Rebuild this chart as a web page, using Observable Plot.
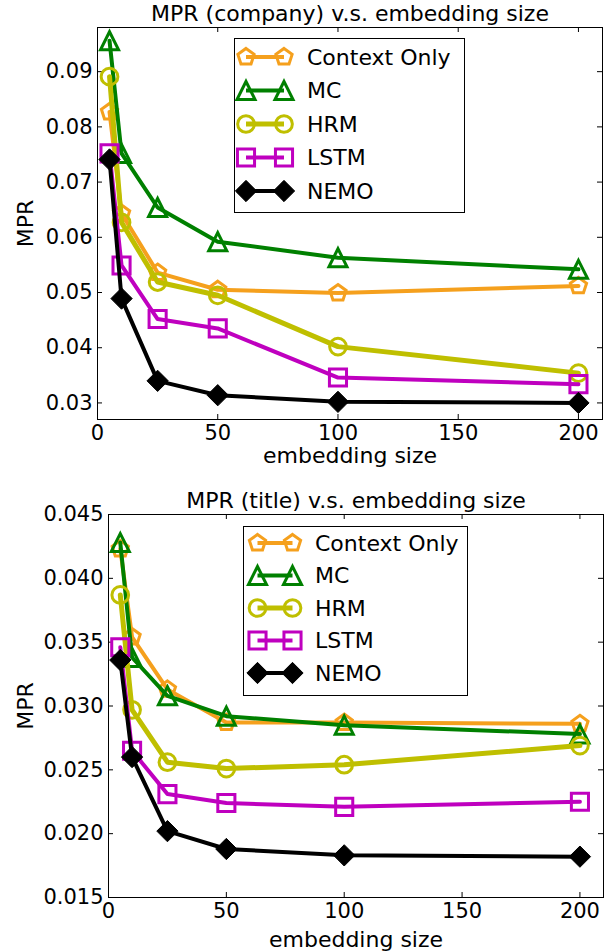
<!DOCTYPE html>
<html><head><meta charset="utf-8">
<script src="https://cdn.jsdelivr.net/npm/d3@7"></script>
<script src="https://cdn.jsdelivr.net/npm/@observablehq/plot@0.6"></script>
<style>
body{margin:0;background:#fff;font-family:"DejaVu Sans",sans-serif;}
#wrap{width:613px;height:952px;}
svg{display:block}
</style></head><body><div id="wrap"></div>
<script>
// ---- data ----
const sizes = [5, 10, 25, 50, 100, 200];
const seriesNames = ["Context Only", "MC", "HRM", "LSTM", "NEMO"];
const xTicks = [0, 50, 100, 150, 200];

// MPR (company)
const companyContext = [0.0827, 0.0643, 0.0536, 0.0505, 0.0499, 0.0512];
const companyMC      = [0.0956, 0.0752, 0.0654, 0.0592, 0.0563, 0.0542];
const companyHRM     = [0.0891, 0.0627, 0.0519, 0.0495, 0.0402, 0.0354];
const companyLSTM    = [0.0752, 0.0549, 0.0452, 0.0435, 0.0346, 0.0334];
const companyNEMO    = [0.0741, 0.0489, 0.0340, 0.0314, 0.0302, 0.0300];
const companyYTicks  = [0.03, 0.04, 0.05, 0.06, 0.07, 0.08, 0.09];

// MPR (title)
const titleContext = [0.0423, 0.0354, 0.0313, 0.0287, 0.0287, 0.0286];
const titleMC      = [0.0428, 0.0338, 0.0308, 0.0292, 0.0285, 0.0278];
const titleHRM     = [0.0387, 0.0297, 0.0256, 0.0251, 0.0254, 0.0269];
const titleLSTM    = [0.0346, 0.0265, 0.0231, 0.0224, 0.0221, 0.0225];
const titleNEMO    = [0.0336, 0.0260, 0.0202, 0.0188, 0.0183, 0.0182];
const titleYTicks  = [0.015, 0.020, 0.025, 0.030, 0.035, 0.040, 0.045];

// ---- styles ----
const colors = ["#f5a01d", "#008000", "#bfbf00", "#bf00bf", "#000000"];
const lineWidths = [4, 4, 5, 4, 4];
const edgeWidths = [3, 3, 3, 3, 1];
const fills = ["none", "none", "none", "none", "#000000"];
const R = 9.5;

const symPentagon = {draw(c, size) {
  const r = Math.sqrt(size / Math.PI) * 0.9;
  for (let i = 0; i < 5; i++) {
    const a = -Math.PI / 2 + i * 2 * Math.PI / 5;
    const px = r * Math.cos(a), py = r * Math.sin(a);
    i ? c.lineTo(px, py) : c.moveTo(px, py);
  }
  c.closePath();
}};
const symTriangle = {draw(c, size) {
  const r = Math.sqrt(size / Math.PI) * 0.95;
  c.moveTo(0, -r); c.lineTo(r, r); c.lineTo(-r, r); c.closePath();
}};
const symCircle = {draw(c, size) {
  const r = Math.sqrt(size / Math.PI) * 0.88;
  c.moveTo(r, 0); c.arc(0, 0, r, 0, 2 * Math.PI); c.closePath();
}};
const symSquare = {draw(c, size) {
  const r = Math.sqrt(size / Math.PI) * 0.9;
  c.moveTo(-r, -r); c.lineTo(r, -r); c.lineTo(r, r); c.lineTo(-r, r); c.closePath();
}};
const symDiamond = {draw(c, size) {
  const r = Math.sqrt(size / Math.PI) * 1.12;
  c.moveTo(0, -r); c.lineTo(r, 0); c.lineTo(0, r); c.lineTo(-r, 0); c.closePath();
}};
const symbols = [symPentagon, symTriangle, symCircle, symSquare, symDiamond];

function chart(cfg) {
  const {values, yDomain, yTicks, yFormat, title, height, mt, mb, ml, mr, titleDy, xlabDy, ylabDx} = cfg;
  const fw = 613 - ml - mr, fh = height - mt - mb;
  const rows = [];
  seriesNames.forEach((name, i) => sizes.forEach((s, j) => rows.push({name, i, x: s, y: values[i][j]})));
  const marks = [];
  marks.push(Plot.tickX(xTicks, {x: d => d, insetTop: fh - 5, stroke: "black", strokeWidth: 1}));
  marks.push(Plot.tickX(xTicks, {x: d => d, insetBottom: fh - 5, stroke: "black", strokeWidth: 1}));
  marks.push(Plot.tickY(yTicks, {y: d => d, insetRight: fw - 5, stroke: "black", strokeWidth: 1}));
  marks.push(Plot.tickY(yTicks, {y: d => d, insetLeft: fw - 5, stroke: "black", strokeWidth: 1}));
  seriesNames.forEach((name, i) => {
    const d = rows.filter(r => r.i === i);
    marks.push(Plot.line(d, {x: "x", y: "y", stroke: colors[i], strokeWidth: lineWidths[i]}));
    marks.push(Plot.dot(d, {x: "x", y: "y", symbol: symbols[i], r: R, stroke: colors[i], fill: fills[i], strokeWidth: edgeWidths[i]}));
  });
  marks.push(Plot.frame({stroke: "black", strokeWidth: 1}));
  marks.push(Plot.axisX(xTicks, {anchor: "bottom", tickSize: 0, tickPadding: 6, fontSize: 21, label: null, tickFormat: d3.format("d")}));
  marks.push(Plot.axisY(yTicks, {anchor: "left", tickSize: 0, tickPadding: 5, fontSize: 21, label: null, tickFormat: d3.format(yFormat)}));
  marks.push(Plot.text([title], {frameAnchor: "top", textAnchor: "middle", lineAnchor: "top", dy: titleDy, fontSize: 22, fill: "black"}));
  marks.push(Plot.text(["embedding size"], {frameAnchor: "bottom", textAnchor: "middle", lineAnchor: "top", dy: xlabDy, fontSize: 22, fill: "black"}));
  marks.push(Plot.text(["MPR"], {frameAnchor: "left", textAnchor: "middle", lineAnchor: "middle", rotate: -90, dx: ylabDx, fontSize: 22, fill: "black"}));
  return Plot.plot({
    width: 613, height,
    marginTop: mt, marginBottom: mb, marginLeft: ml, marginRight: mr,
    x: {domain: [0, 210], axis: null},
    y: {domain: yDomain, axis: null},
    style: {fontFamily: "DejaVu Sans", fontSize: "21px", color: "black", background: "white", overflow: "visible"},
    marks
  });
}

function addLegend(svg, L) {
  const g = d3.select(svg).append("g").attr("font-family", "DejaVu Sans").attr("font-size", 22)
    .attr("text-anchor", "start");
  g.append("rect").attr("x", L.x + 0.5).attr("y", L.y + 0.5).attr("width", L.w).attr("height", L.h)
    .attr("fill", "white").attr("stroke", "black").attr("stroke-width", 1);
  seriesNames.forEach((name, i) => {
    const cy = L.y + L.rowTop + i * L.rowStep;
    g.append("line").attr("x1", L.x + L.m1).attr("x2", L.x + L.m2).attr("y1", cy).attr("y2", cy)
      .attr("stroke", colors[i]).attr("stroke-width", lineWidths[i]);
    [L.m1, L.m2].forEach(mx => {
      g.append("path").attr("d", d3.symbol(symbols[i], Math.PI * R * R)())
        .attr("transform", `translate(${L.x + mx},${cy})`)
        .attr("fill", fills[i]).attr("stroke", colors[i]).attr("stroke-width", edgeWidths[i]);
    });
    g.append("text").attr("x", L.x + L.tx).attr("y", cy).attr("dy", "0.36em")
      .attr("text-anchor", "start").attr("fill", "black").text(name);
  });
}

const wrapEl = document.getElementById("wrap");
const topChart = chart({
  values: [companyContext, companyMC, companyHRM, companyLSTM, companyNEMO],
  yDomain: [0.027, 0.098], yTicks: companyYTicks, yFormat: ".2f",
  title: "MPR (company) v.s. embedding size",
  height: 476, mt: 27, mb: 57, ml: 97, mr: 11, titleDy: -22, xlabDy: 28, ylabDx: -72
});
addLegend(topChart, {x: 234, y: 38, w: 230, h: 174, rowTop: 19, rowStep: 33.5, m1: 12, m2: 50, tx: 73});
wrapEl.appendChild(topChart);

const bottomChart = chart({
  values: [titleContext, titleMC, titleHRM, titleLSTM, titleNEMO],
  yDomain: [0.015, 0.045], yTicks: titleYTicks, yFormat: ".3f",
  title: "MPR (title) v.s. embedding size",
  height: 476, mt: 38, mb: 55, ml: 108, mr: 10, titleDy: -22, xlabDy: 34, ylabDx: -83
});
addLegend(bottomChart, {x: 243, y: 50, w: 224, h: 169, rowTop: 17, rowStep: 32.5, m1: 14.5, m2: 49.5, tx: 72});
wrapEl.appendChild(bottomChart);
</script>
</body></html>
